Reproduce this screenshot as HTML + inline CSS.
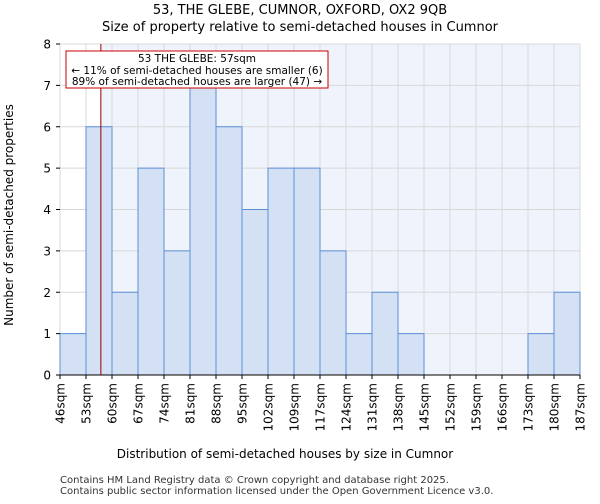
<!DOCTYPE html>
<html><head><meta charset="utf-8"><style>
body{margin:0;background:#fff;font-family:"DejaVu Sans","Liberation Sans",sans-serif;}
</style></head><body>
<svg width="600" height="500" xmlns="http://www.w3.org/2000/svg" font-family="DejaVu Sans, Liberation Sans, sans-serif">
<text x="300" y="14" text-anchor="middle" font-size="13">53, THE GLEBE, CUMNOR, OXFORD, OX2 9QB</text>
<text x="300" y="31" text-anchor="middle" font-size="13">Size of property relative to semi-detached houses in Cumnor</text>
<g id="plot"></g>
<text x="285" y="458" text-anchor="middle" font-size="12">Distribution of semi-detached houses by size in Cumnor</text>
<text transform="translate(13,215) rotate(-90)" text-anchor="middle" font-size="12">Number of semi-detached properties</text>
<text x="60" y="483" font-size="10" fill="#333">Contains HM Land Registry data © Crown copyright and database right 2025.</text>
<text x="60" y="494" font-size="10" fill="#333">Contains public sector information licensed under the Open Government Licence v3.0.</text>
</svg>
<script>
const categories=["46sqm","53sqm","60sqm","67sqm","74sqm","81sqm","88sqm","95sqm","102sqm","109sqm","117sqm","124sqm","131sqm","138sqm","145sqm","152sqm","159sqm","166sqm","173sqm","180sqm","187sqm"];
const counts=[1,6,2,5,3,7,6,4,5,5,3,1,2,1,0,0,0,0,1,2];
const yTicks=[0,1,2,3,4,5,6,7,8];
const propertySize=57;
const binStarts=[46,53,60,67,74,81,88,95,102,109,117,124,131,138,145,152,159,166,173,180,187];
const NS="http://www.w3.org/2000/svg";
const L=60,R=580,T=44,B=375,yMax=8;
const bw=(R-L)/counts.length;
const xs=i=>L+i*bw;
const ys=v=>B-(v/yMax)*(B-T);
const g=document.getElementById('plot');
function mk(t,a){const e=document.createElementNS(NS,t);for(const k in a)e.setAttribute(k,a[k]);g.appendChild(e);return e;}
function valToX(v){for(let i=0;i<binStarts.length-1;i++){if(v>=binStarts[i]&&v<=binStarts[i+1])return xs(i)+(v-binStarts[i])/(binStarts[i+1]-binStarts[i])*bw;}return R;}
const px=valToX(propertySize);
let bg=mk('rect',{x:L,y:T,width:R-L,height:B-T,fill:'#eff3fb'});

let wbg=mk('rect',{x:L,y:T,width:px-L,height:B-T,fill:'#ffffff'});

for(let i=0;i<=counts.length;i++){let l=mk('line',{x1:xs(i),x2:xs(i),y1:T,y2:B,stroke:'#d8d8d8','stroke-width':1});}
yTicks.forEach(v=>{let l=mk('line',{x1:L,x2:R,y1:ys(v),y2:ys(v),stroke:'#d8d8d8','stroke-width':1});});
counts.forEach((c,i)=>{if(c<=0)return;let r=mk('rect',{x:xs(i),y:ys(c),width:bw,height:B-ys(c),fill:'#d4e0f4',stroke:'#5b8fd6','stroke-width':1});});
let ax=mk('line',{x1:L,x2:R,y1:B,y2:B,stroke:'#000'});
yTicks.forEach(v=>{let t=mk('line',{x1:L-4,x2:L,y1:ys(v),y2:ys(v),stroke:'#000'});
let tx=mk('text',{x:L-9,y:ys(v)+4.5,'text-anchor':'end','font-size':12});tx.textContent=v;});
categories.forEach((c,i)=>{let t=mk('line',{x1:xs(i),x2:xs(i),y1:B,y2:B+4,stroke:'#000'});
let tx=mk('text',{transform:`translate(${xs(i)+4.5},${B+8}) rotate(-90)`,'text-anchor':'end','font-size':12});tx.textContent=c;});
let ml=mk('line',{x1:px,x2:px,y1:T,y2:B,stroke:'#990000','stroke-width':1});
let box=mk('rect',{x:66,y:51,width:262,height:37,fill:'#fff',stroke:'#cc0000','stroke-width':1});
[["53 THE GLEBE: 57sqm",62],["← 11% of semi-detached houses are smaller (6)",74],["89% of semi-detached houses are larger (47) →",85]].forEach(([s,y])=>{let t=mk('text',{x:197,y:y,'text-anchor':'middle','font-size':10.5});t.textContent=s;});
</script>
</body></html>
